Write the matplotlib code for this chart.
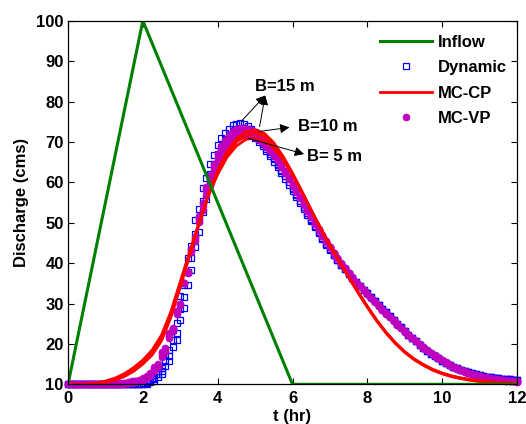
import numpy as np
import matplotlib
matplotlib.use("Agg")
import matplotlib.pyplot as plt

plt.rcParams["font.family"] = ["Liberation Sans", "DejaVu Sans"]
plt.rcParams["font.weight"] = "bold"
plt.rcParams["axes.labelweight"] = "bold"

# 1. Données lues sur la figure
# hydrogramme d'entrée
t_inflow = [0, 2, 6, 12]
q_inflow = [10, 100, 10, 10]

# Dynamic et MC-VP : pas de 0.1 h
t_mark = np.round(np.arange(0, 12.01, 0.1), 1)

dyn_b15 = [10.0, 10.0, 10.0, 10.0, 10.0, 10.0, 10.0, 10.0, 10.0, 10.0,
           10.0, 10.0, 10.0, 10.0, 10.0, 10.0, 10.0, 10.1, 10.1, 10.2,
           10.3, 10.6, 11.1, 11.6, 13.3, 14.0, 17.4, 18.6, 23.4, 25.2,
           31.8, 34.6, 41.2, 44.2, 50.6, 53.4, 58.6, 61.0, 64.6, 66.8,
           69.2, 70.9, 72.2, 73.3, 74.1, 74.5, 74.6, 74.4, 74.0, 73.3,
           72.4, 71.3, 70.1, 68.8, 67.4, 66.0, 64.5, 63.0, 61.5, 60.0,
           58.4, 56.9, 55.3, 53.8, 52.3, 50.7, 49.2, 47.7, 46.2, 44.8,
           43.4, 42.1, 40.8, 39.6, 38.5, 37.4, 36.4, 35.4, 34.4, 33.4,
           32.5, 31.5, 30.5, 29.6, 28.7, 27.8, 26.9, 26.0, 25.0, 24.1,
           23.2, 22.3, 21.4, 20.6, 19.8, 19.0, 18.3, 17.6, 17.0, 16.4,
           15.8, 15.3, 14.8, 14.4, 14.0, 13.6, 13.3, 13.0, 12.7, 12.5,
           12.3, 12.1, 11.9, 11.7, 11.6, 11.5, 11.4, 11.3, 11.2, 11.1,
           11.0]
dyn_b10 = [10.0, 10.0, 10.0, 10.0, 10.0, 10.0, 10.0, 10.0, 10.0, 10.0,
           10.0, 10.0, 10.0, 10.0, 10.0, 10.0, 10.0, 10.0, 10.1, 10.1,
           10.2, 10.4, 10.8, 11.2, 12.6, 13.2, 15.8, 17.0, 21.0, 22.8,
           28.6, 31.6, 37.8, 41.2, 47.2, 50.6, 55.4, 58.6, 62.0, 64.6,
           66.9, 68.8, 70.4, 71.6, 72.6, 73.2, 73.5, 73.5, 73.3, 72.8,
           71.5, 70.5, 69.4, 68.2, 67.0, 65.7, 64.3, 62.9, 61.5, 60.0,
           58.5, 57.0, 55.5, 54.0, 52.4, 50.9, 49.3, 47.8, 46.3, 44.8,
           43.4, 42.1, 40.8, 39.6, 38.5, 37.4, 36.4, 35.4, 34.4, 33.4,
           32.5, 31.5, 30.5, 29.6, 28.7, 27.8, 26.9, 26.0, 25.0, 24.1,
           23.2, 22.3, 21.4, 20.6, 19.8, 19.0, 18.3, 17.6, 17.0, 16.4,
           15.8, 15.3, 14.8, 14.4, 14.0, 13.6, 13.3, 13.0, 12.7, 12.5,
           12.3, 12.1, 11.9, 11.7, 11.6, 11.5, 11.4, 11.3, 11.2, 11.1,
           11.0]
dyn_b5 = [10.0, 10.0, 10.0, 10.0, 10.0, 10.0, 10.0, 10.0, 10.0, 10.0,
          10.0, 10.0, 10.0, 10.0, 10.0, 10.0, 10.0, 10.0, 10.0, 10.1,
          10.1, 10.2, 10.5, 10.9, 11.9, 12.6, 14.5, 15.8, 19.2, 20.9,
          26.0, 28.8, 34.6, 38.2, 44.0, 47.6, 52.6, 55.8, 59.6, 62.2,
          64.8, 66.8, 68.5, 69.9, 70.9, 71.6, 72.0, 72.1, 72.0, 71.6,
          70.9, 70.0, 68.9, 67.7, 66.4, 65.1, 63.7, 62.3, 60.8, 59.4,
          57.9, 56.4, 54.9, 53.4, 51.9, 50.4, 48.9, 47.5, 46.0, 44.6,
          43.3, 42.0, 40.8, 39.6, 38.5, 37.4, 36.4, 35.4, 34.4, 33.4,
          32.5, 31.5, 30.5, 29.6, 28.7, 27.8, 26.9, 26.0, 25.0, 24.1,
          23.2, 22.3, 21.4, 20.6, 19.8, 19.0, 18.3, 17.6, 17.0, 16.4,
          15.8, 15.3, 14.8, 14.4, 14.0, 13.6, 13.3, 13.0, 12.7, 12.5,
          12.3, 12.1, 11.9, 11.7, 11.6, 11.5, 11.4, 11.3, 11.2, 11.1,
          11.0]

vp_b15 = [10.0, 10.0, 10.0, 10.0, 10.0, 10.0, 10.0, 10.0, 10.0, 10.0,
          10.0, 10.0, 10.0, 10.1, 10.1, 10.2, 10.3, 10.4, 10.6, 10.8,
          11.0, 11.5, 12.1, 13.4, 14.2, 16.8, 18.0, 21.4, 23.2, 27.4,
          29.6, 35.0, 37.8, 43.4, 46.4, 51.6, 54.9, 58.8, 61.8, 64.6,
          66.9, 68.9, 70.5, 71.8, 72.7, 73.3, 73.5, 73.5, 73.3, 72.9,
          72.4, 71.7, 70.8, 69.7, 68.5, 67.2, 65.8, 64.3, 62.8, 61.2,
          59.6, 58.0, 56.4, 54.8, 53.2, 51.6, 50.0, 48.4, 46.9, 45.4,
          44.0, 42.6, 41.3, 40.0, 38.8, 37.6, 36.5, 35.4, 34.4, 33.4,
          32.4, 31.4, 30.4, 29.4, 28.5, 27.6, 26.7, 25.8, 24.9, 24.0,
          23.1, 22.3, 21.5, 20.7, 19.9, 19.2, 18.5, 17.8, 17.2, 16.6,
          16.0, 15.4, 14.9, 14.4, 14.0, 13.6, 13.2, 12.9, 12.6, 12.3,
          12.1, 11.9, 11.7, 11.5, 11.3, 11.2, 11.1, 11.0, 10.9, 10.8,
          10.7]
vp_b10 = [10.0, 10.0, 10.0, 10.0, 10.0, 10.0, 10.0, 10.0, 10.0, 10.0,
          10.0, 10.0, 10.1, 10.1, 10.2, 10.3, 10.4, 10.5, 10.7, 10.9,
          11.2, 11.8, 12.4, 13.9, 14.6, 17.4, 18.4, 22.0, 23.6, 27.8,
          29.8, 35.2, 37.8, 43.2, 46.0, 51.0, 54.2, 58.0, 60.9, 63.6,
          65.9, 67.9, 69.5, 70.8, 71.8, 72.5, 72.9, 73.0, 72.9, 72.6,
          72.1, 71.4, 70.5, 69.4, 68.2, 66.9, 65.5, 64.0, 62.5, 61.0,
          59.4, 57.8, 56.2, 54.6, 53.0, 51.4, 49.8, 48.3, 46.8, 45.3,
          43.9, 42.5, 41.2, 39.9, 38.7, 37.5, 36.4, 35.3, 34.3, 33.3,
          32.3, 31.3, 30.3, 29.3, 28.4, 27.5, 26.6, 25.7, 24.8, 23.9,
          23.0, 22.2, 21.4, 20.6, 19.8, 19.1, 18.4, 17.7, 17.1, 16.5,
          15.9, 15.3, 14.8, 14.3, 13.9, 13.5, 13.1, 12.8, 12.5, 12.2,
          12.0, 11.8, 11.6, 11.4, 11.2, 11.1, 11.0, 10.9, 10.8, 10.7,
          10.6]
vp_b5 = [10.0, 10.0, 10.0, 10.0, 10.0, 10.0, 10.0, 10.0, 10.0, 10.0,
         10.0, 10.0, 10.1, 10.2, 10.3, 10.4, 10.5, 10.7, 10.9, 11.1,
         11.5, 12.1, 12.8, 14.4, 15.1, 18.0, 18.9, 22.6, 24.0, 28.2,
         30.0, 35.2, 37.6, 42.8, 45.4, 50.2, 53.2, 56.8, 59.6, 62.2,
         64.4, 66.3, 67.9, 69.2, 70.2, 70.9, 71.4, 71.7, 71.8, 71.6,
         71.2, 70.6, 69.8, 68.8, 67.7, 66.5, 65.2, 63.8, 62.3, 60.8,
         59.2, 57.6, 56.0, 54.4, 52.8, 51.3, 49.8, 48.3, 46.8, 45.3,
         43.9, 42.5, 41.2, 39.9, 38.7, 37.5, 36.4, 35.3, 34.3, 33.3,
         32.3, 31.3, 30.3, 29.3, 28.4, 27.5, 26.6, 25.7, 24.8, 23.9,
         23.0, 22.2, 21.4, 20.6, 19.8, 19.1, 18.4, 17.7, 17.1, 16.5,
         15.9, 15.3, 14.8, 14.3, 13.9, 13.5, 13.1, 12.8, 12.5, 12.2,
         12.0, 11.8, 11.6, 11.4, 11.2, 11.1, 11.0, 10.9, 10.8, 10.7,
         10.6]

# MC-CP : pas de 0.25 h
t_line = np.arange(0, 12.01, 0.25)
cp_b15 = [10.0, 10.0, 10.0, 10.1, 10.5, 11.0, 11.9, 13.2, 15.0, 17.3,
          20.8, 26.6, 34.0, 41.8, 49.6, 57.0, 63.0, 67.6, 70.8, 72.5,
          73.0, 72.1, 69.8, 66.4, 62.3, 57.8, 53.1, 48.6, 44.3, 40.3,
          36.5, 32.7, 29.1, 25.7, 22.7, 20.1, 17.9, 16.1, 14.7, 13.5,
          12.6, 11.9, 11.4, 11.0, 10.7, 10.5, 10.4, 10.3, 10.2]
cp_b10 = [10.0, 10.0, 10.0, 10.2, 10.6, 11.2, 12.2, 13.6, 15.4, 17.8,
          21.4, 27.2, 34.6, 42.2, 49.8, 56.8, 62.6, 67.0, 70.0, 71.6,
          72.2, 71.4, 69.2, 66.0, 62.0, 57.6, 53.0, 48.6, 44.4, 40.4,
          36.6, 32.8, 29.2, 25.8, 22.8, 20.2, 18.0, 16.2, 14.8, 13.6,
          12.7, 12.0, 11.5, 11.1, 10.8, 10.6, 10.4, 10.3, 10.2]
cp_b5 = [10.0, 10.0, 10.0, 10.3, 10.8, 11.5, 12.6, 14.1, 16.0, 18.5,
         22.2, 28.0, 35.4, 42.8, 50.0, 56.6, 62.0, 66.2, 69.0, 70.6,
         71.0, 70.3, 68.4, 65.5, 61.8, 57.6, 53.1, 48.7, 44.5, 40.5,
         36.7, 32.9, 29.3, 25.9, 22.9, 20.3, 18.1, 16.3, 14.9, 13.7,
         12.8, 12.1, 11.6, 11.2, 10.9, 10.7, 10.5, 10.4, 10.3]

# 2. Tracer
fig = plt.figure(figsize=(5.26, 4.24), dpi=100)
ax = fig.add_axes([0.1293, 0.0936, 0.8536, 0.8575])

for q in (dyn_b15, dyn_b10, dyn_b5):
    h_dyn, = ax.plot(t_mark, q, ls="none", marker="s", ms=4.2, mfc="none",
                     mec="#0000ff", mew=0.9, clip_on=False)
for q in (vp_b15, vp_b10, vp_b5):
    h_vp, = ax.plot(t_mark, q, ls="none", marker="o", ms=5, mfc="#bf00bf",
                    mec="#bf00bf", mew=0.5, clip_on=False)
for q in (cp_b15, cp_b10, cp_b5):
    h_cp, = ax.plot(t_line, q, color="#ff0000", lw=2.0)
h_in, = ax.plot(t_inflow, q_inflow, color="#008000", lw=2.2)

# flèches B = 15, 10, 5 m
fleche = dict(arrowstyle="-|>", color="k", lw=0.7, mutation_scale=14,
              shrinkA=0, shrinkB=0)
ax.annotate("", xy=(5.27, 81.5), xytext=(4.62, 75.0), arrowprops=fleche)
ax.annotate("", xy=(5.27, 81.5), xytext=(5.12, 73.8), arrowprops=fleche)
ax.text(5.0, 83.6, "B=15 m", fontsize=12, va="center", ha="left")
ax.annotate("", xy=(5.92, 73.6), xytext=(5.12, 72.6), arrowprops=fleche)
ax.text(6.16, 73.8, "B=10 m", fontsize=12, va="center", ha="left")
ax.annotate("", xy=(6.31, 67.0), xytext=(4.81, 70.9), arrowprops=fleche)
ax.text(6.4, 66.4, "B= 5 m", fontsize=12, va="center", ha="left")

ax.set_xlim(0, 12)
ax.set_ylim(10, 100)
ax.set_xticks(range(0, 13, 2))
ax.set_yticks(range(10, 101, 10))
ax.tick_params(direction="in", top=True, right=True, length=4, width=0.8,
               labelsize=12, pad=3)
ax.tick_params(axis="x", pad=5)
for s in ax.spines.values():
    s.set_linewidth(0.9)
ax.set_xlabel("t (hr)", fontsize=12, labelpad=2)
ax.set_ylabel("Discharge (cms)", fontsize=12, labelpad=5)

ax.legend([h_in, h_dyn, h_cp, h_vp], ["Inflow", "Dynamic", "MC-CP", "MC-VP"],
          loc="upper left", bbox_to_anchor=(0.695, 0.962), frameon=False,
          borderpad=0, borderaxespad=0, handlelength=3.1, handletextpad=0.35,
          labelspacing=0.63, numpoints=1, fontsize=12)

fig.savefig("out.png", dpi=100)
